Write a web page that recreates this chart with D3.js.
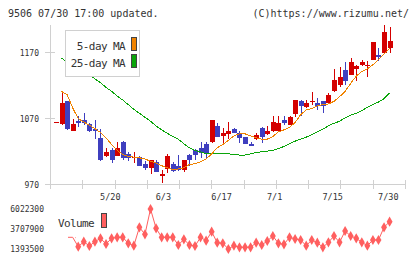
<!DOCTYPE html>
<html>
<head>
<meta charset="utf-8">
<script src="https://cdn.jsdelivr.net/npm/d3@7"></script>
<style>
  body { margin: 0; background: #fff; }
  svg { display: block; font-family: "DejaVu Sans Mono", monospace; }
</style>
</head>
<body>
<svg id="chart" width="420" height="259"></svg>
<script>
// daily candles, oldest first (61 trading days)
const opens  = [1063,1061,1095,1051,1066,1067,1061,1053,1040,1012,1022,1013,1034,1016,1009,1011,1000,994,1004,983,
                993,1000,997,991,1014,1021,1025,1031,1033,1058,1043,1046,1053,1048,1041,1031,1038,1055,1046,1051,
                1051,1067,1060,1076,1096,1087,1094,1093,1096,1093,1110,1120,1142,1135,1144,1150,1149,1158,1165,1168,1175];
const highs  = [1064,1111,1096,1068,1073,1078,1062,1067,1053,1024,1024,1034,1035,1018,1018,1013,1005,1007,1007,992,
                1016,1004,1014,1007,1015,1023,1033,1034,1067,1063,1055,1064,1055,1050,1042,1033,1048,1057,1058,1073,
                1073,1073,1073,1097,1097,1097,1109,1100,1096,1108,1144,1146,1154,1161,1149,1158,1156,1185,1176,1212,1207];
const lows   = [1063,1060,1052,1050,1057,1060,1049,1039,1005,1011,1002,1012,1007,1005,1002,997,992,985,988,972,
                987,989,990,989,998,1007,1009,1010,1032,1042,1032,1038,1047,1032,1030,1027,1037,1032,1045,1049,
                1049,1060,1059,1072,1073,1085,1089,1082,1078,1092,1109,1116,1120,1134,1125,1148,1132,1157,1156,1167,1168];
const closes = [1064,1093,1054,1061,1063,1063,1051,1050,1006,1019,1006,1025,1010,1009,1011,998,995,1007,989,985,
                1013,990,992,1007,1007,1014,1017,1017,1067,1042,1047,1051,1048,1040,1030,1028,1044,1042,1051,1064,
                1063,1062,1071,1097,1088,1093,1095,1088,1088,1104,1127,1132,1126,1155,1148,1155,1150,1184,1162,1200,1186];

const ma5  = [null,1110,1105,1085,1069,1064,1059,1054,1048,1040,1030,1021,1015,1012,1011,1010,1008,1005,1002,998,
              995,992,993,995,1000,1001,1004,1008,1016,1025,1030,1036,1043,1046,1046,1043,1040,1038,1038,1042,
              1049,1052,1056,1063,1075,1082,1084,1088,1090,1091,1095,1102,1110,1122,1133,1140,1144,1150,1158,1166,1175];
const ma25 = [null,1160,1154,1150,1145,1139,1135,1129,1123,1116,1110,1103,1097,1090,1083,1077,1071,1065,1058,1052,
              1047,1042,1038,1031,1025,1021,1019,1016,1016,1016,1016,1016,1015,1014,1014,1016,1018,1019,1020,1021,
              1024,1027,1031,1035,1038,1041,1045,1049,1053,1058,1062,1065,1070,1074,1077,1081,1086,1090,1094,1099,1108];

const volumes = [2750000,2750000,2747000,2747000,1660000,2238000,1741000,2238000,2632000,1972000,
                 2632000,2747000,2747000,2053000,1775000,3905000,3095000,6022300,3789000,2747000,
                 2747000,2747000,1856000,2516000,1856000,1741000,2747000,2354000,3395000,2122000,
                 2053000,1393500,1775000,1590000,1590000,1590000,2122000,1856000,2319000,2898000,
                 2053000,1937000,2747000,2551000,2435000,1775000,2435000,2122000,1590000,2169000,
                 2898000,2169000,3476000,2898000,2632000,2169000,1775000,2435000,2435000,3905000,4553000];

const tickIdx    = [10, 20, 30, 40, 50, 60];
const tickLabels = ['5/20', '6/3', '6/17', '7/1', '7/15', '7/30'];
const priceTicks = [1170, 1070, 970];

const RED = '#d40000', BLUE = '#3f3fbf', ORANGE = '#f08300', GREEN = '#0aa50a', GRAY = '#d0d0d0', TXT = '#333';

const svg = d3.select('#chart');
const n = closes.length;

const x = d3.scaleLinear().domain([0, n - 1]).range([56, 389.6]);
const y = d3.scaleLinear().domain([970, 1210]).range([184.3, 25]);
const px = (i) => Math.round(x(i));

// header
svg.append('text').attr('x', 8).attr('y', 17).attr('font-size', 10).attr('fill', TXT)
  .text('9506 07/30 17:00 updated.');
svg.append('text').attr('x', 409).attr('y', 17).attr('font-size', 10).attr('fill', TXT)
  .attr('text-anchor', 'end').text('(C)https://www.rizumu.net/');

// axes
svg.append('line').attr('x1', 50.5).attr('x2', 50.5).attr('y1', 25).attr('y2', 189)
  .attr('stroke', GRAY);
svg.append('line').attr('x1', 50).attr('x2', 406).attr('y1', 184.5).attr('y2', 184.5)
  .attr('stroke', GRAY);
d3.range(12).forEach((k) => {
  const gx = Math.round(50 + k * (355 / 11)) + 0.5;
  svg.append('line').attr('x1', gx).attr('x2', gx).attr('y1', 180).attr('y2', 189).attr('stroke', GRAY);
});
priceTicks.forEach((v) => {
  const ty = Math.round(y(v)) + 0.5;
  svg.append('line').attr('x1', 45).attr('x2', 55).attr('y1', ty).attr('y2', ty).attr('stroke', GRAY);
  svg.append('text').attr('x', 39).attr('y', ty + 3).attr('text-anchor', 'end')
    .attr('font-size', 8).attr('fill', TXT).text(v);
});
tickIdx.forEach((i, k) => {
  svg.append('text').attr('x', x(i) - 11.5).attr('y', 200).attr('font-size', 8.5).attr('fill', TXT)
    .text(tickLabels[k]);
});

// candles
svg.append('clipPath').attr('id', 'plotclip')
  .append('rect').attr('x', 50).attr('y', 25).attr('width', 360).attr('height', 160);
const cg = svg.append('g').attr('clip-path', 'url(#plotclip)').attr('shape-rendering', 'crispEdges');

d3.range(n).forEach((i) => {
  const up = closes[i] >= opens[i];
  const col = up ? RED : BLUE;
  const cx = px(i);
  cg.append('line').attr('x1', cx + 0.5).attr('x2', cx + 0.5)
    .attr('y1', y(highs[i])).attr('y2', y(lows[i])).attr('stroke', col);
  const top = y(Math.max(opens[i], closes[i]));
  const bot = y(Math.min(opens[i], closes[i]));
  cg.append('rect').attr('x', cx - 2).attr('width', 5)
    .attr('y', top).attr('height', Math.max(1, bot - top)).attr('fill', col);
});

const maLine = d3.line().defined((d) => d != null).x((d, i) => x(i)).y((d) => y(d));
cg.append('path').datum(ma25).attr('d', maLine).attr('fill', 'none').attr('stroke', GREEN);
cg.append('path').datum(ma5).attr('d', maLine).attr('fill', 'none').attr('stroke', ORANGE);

// legend
const lg = svg.append('g');
lg.append('rect').attr('x', 65.5).attr('y', 30.5).attr('width', 74).attr('height', 46)
  .attr('fill', '#fff').attr('stroke', GRAY);
[['5-day MA', ORANGE, 50, 37.5], ['25-day MA', GREEN, 67, 54.5]].forEach(([label, col, ty, sy]) => {
  lg.append('text').attr('x', 125).attr('y', ty).attr('text-anchor', 'end')
    .attr('font-size', 11).attr('letter-spacing', -0.6).attr('fill', TXT).text(label);
  lg.append('rect').attr('x', 131.5).attr('y', sy).attr('width', 5).attr('height', 13)
    .attr('fill', col).attr('stroke', '#444');
});

// volume panel
const yv = d3.scaleLinear().domain([d3.min(volumes), d3.max(volumes)]).range([249, 209]);
const volTicks = [d3.max(volumes), (d3.min(volumes) + d3.max(volumes)) / 2, d3.min(volumes)];
volTicks.forEach((v) => {
  svg.append('text').attr('x', 44).attr('y', yv(v) + 3).attr('text-anchor', 'end')
    .attr('font-size', 8).attr('fill', TXT).text(v);
});

svg.append('text').attr('x', 58).attr('y', 226.5).attr('font-size', 11).attr('letter-spacing', -0.6)
  .attr('fill', TXT).text('Volume');
svg.append('rect').attr('x', 101.5).attr('y', 213.5).attr('width', 5).attr('height', 14)
  .attr('fill', '#ff5f5f').attr('stroke', '#444');

svg.append('clipPath').attr('id', 'volline')
  .append('rect').attr('x', 68).attr('y', 200).attr('width', 340).attr('height', 59);
svg.append('clipPath').attr('id', 'volmark')
  .append('rect').attr('x', 75).attr('y', 200).attr('width', 340).attr('height', 59);

const vLine = d3.line().x((d, i) => x(i)).y((d) => yv(d));
svg.append('path').datum(volumes).attr('d', vLine).attr('clip-path', 'url(#volline)')
  .attr('fill', 'none').attr('stroke', '#ff5f5f');
svg.append('g').attr('clip-path', 'url(#volmark)')
  .selectAll('path').data(volumes).join('path')
  .attr('transform', (d, i) => `translate(${x(i)},${yv(d)})`)
  .attr('d', d3.symbol(d3.symbolDiamond, 30))
  .attr('fill', '#ff5f5f');
</script>
</body>
</html>
